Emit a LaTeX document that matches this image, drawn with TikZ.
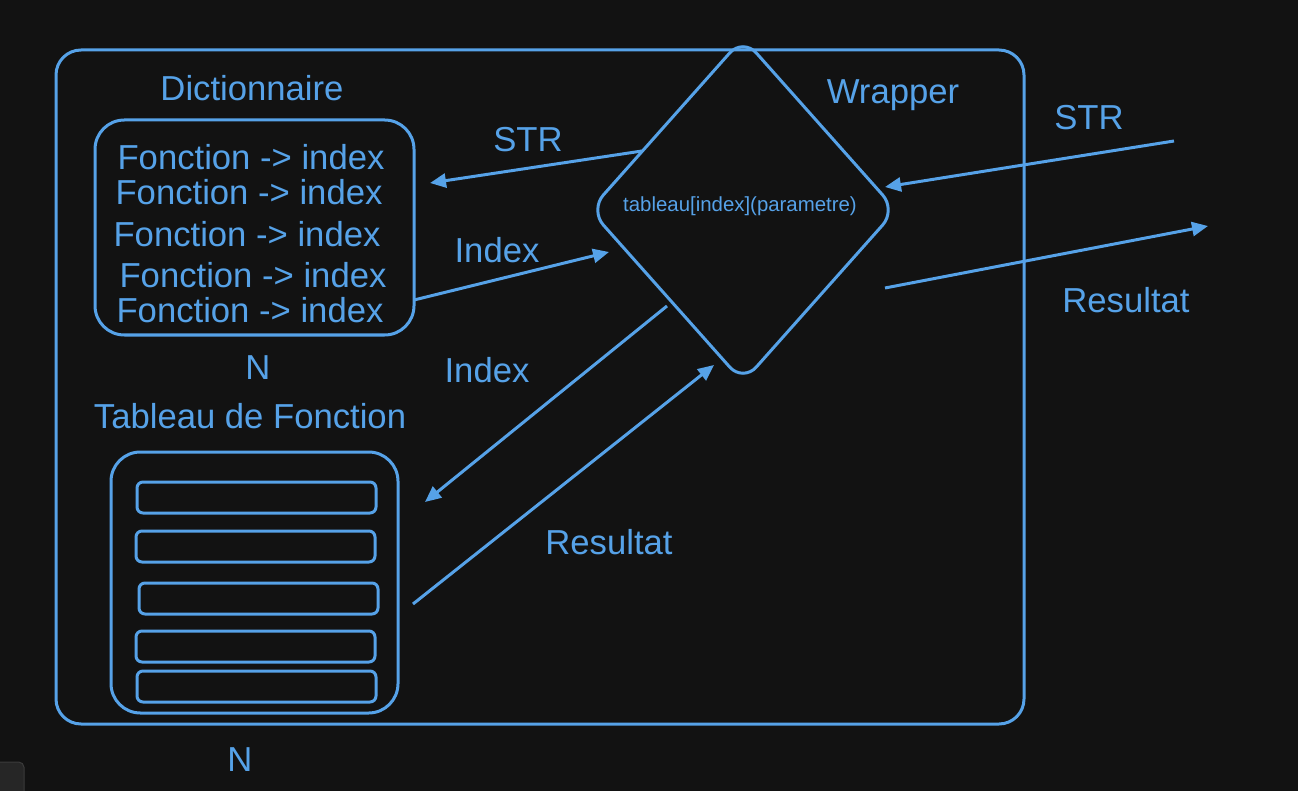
\documentclass[tikz,border=0pt]{standalone}
\usepackage{fontspec}
\setmainfont{Liberation Sans}
\usetikzlibrary{arrows.meta}
\definecolor{bgdark}{RGB}{18,18,18}
\definecolor{skyblue}{RGB}{86,162,232}
\definecolor{uigray}{RGB}{38,38,38}
\definecolor{uiedge}{RGB}{58,58,58}
\tikzset{
  box/.style={draw=skyblue, line width=2.25pt, rounded corners=22pt, inner sep=0pt, outer sep=0pt},
  rowbox/.style={draw=skyblue, line width=2.25pt, rounded corners=4.5pt, inner sep=0pt,
    minimum width=179.25pt, minimum height=23.25pt},
  lbl/.style={text=skyblue, font=\fontsize{26}{30}\selectfont, inner sep=0pt},
  flow/.style={draw=skyblue, line width=2.25pt, -{Triangle[length=12pt,width=10.5pt]}}
}
\begin{document}
\begin{tikzpicture}[x=0.75pt, y=-0.75pt]
        % background
        \fill[bgdark] (0,0) rectangle (1298,791);
        \useasboundingbox (0,0) rectangle (1298,791);
        \filldraw[fill=uigray, draw=uiedge, line width=0.75pt, rounded corners=4pt] (-10,762) rectangle (24,800);

        % Outer frame
        \node[box, rounded corners=18.75pt, minimum width=726pt, minimum height=505.5pt] (outer) at (540,387) {};

        % Dictionnaire
        \node[lbl] (dictlbl) at (252,88) {Dictionnaire};
        \node[box, minimum width=239.25pt, minimum height=161.25pt] (dict) at (254.5,227.5) {};
        \foreach \x/\y [count=\i] in {251/157, 249/192, 247/234, 253/275, 250/310}
            \node[lbl] (fct\i) at (\x,\y) {Fonction -> index};
        \node[lbl] (n1) at (258,368) {N};

        % Tableau de Fonction
        \node[lbl] (tablbl) at (250,416) {Tableau de Fonction};
        \node[box, minimum width=215.25pt, minimum height=195.75pt] (tab) at (254.5,582.5) {};
        \foreach \x/\y [count=\i] in {256.5/497.5, 255.5/546.5, 258.5/598.5, 255.5/646.5, 256.5/686.5}
            \node[rowbox] (row\i) at (\x,\y) {};
        \node[lbl] (n2) at (240,760) {N};

        % Wrapper diamond
        \draw[skyblue, line width=2.25pt, rounded corners=15pt]
            (743,38) -- (896,210) -- (743,382) -- (590,210) -- cycle;
        \node[text=skyblue, font=\fontsize{15.3}{18}\selectfont, inner sep=0pt] (wrap) at (740,206) {tableau[index](parametre)};
        \node[lbl] (wraplbl) at (893,95) {Wrapper};

        % Arrow end points
        \coordinate (strA) at (642,151);
        \coordinate (strB) at (430,183);
        \coordinate (idxA) at (414,300);
        \coordinate (idxB) at (609,252);
        \coordinate (idx2A) at (667,306);
        \coordinate (idx2B) at (425,502);
        \coordinate (resA) at (413,604);
        \coordinate (resB) at (714,365);
        \coordinate (inA) at (1174,141);
        \coordinate (inB) at (885,187);
        \coordinate (outA) at (885,288);
        \coordinate (outB) at (1208,226);

        % Arrows
        \draw[flow] (strA) -- (strB);
        \draw[flow] (idxA) -- (idxB);
        \draw[flow] (idx2A) -- (idx2B);
        \draw[flow] (resA) -- (resB);
        \draw[flow] (inA) -- (inB);
        \draw[flow] (outA) -- (outB);

        % Arrow labels
        \node[lbl] (strlbl) at (528,140) {STR};
        \node[lbl] (idxlbl) at (497,250) {Index};
        \node[lbl] (idx2lbl) at (487,370) {Index};
        \node[lbl] (reslbl) at (609,542) {Resultat};
        \node[lbl] (inlbl) at (1089,118) {STR};
        \node[lbl] (outlbl) at (1126,300) {Resultat};

    \end{tikzpicture}
\end{document}
